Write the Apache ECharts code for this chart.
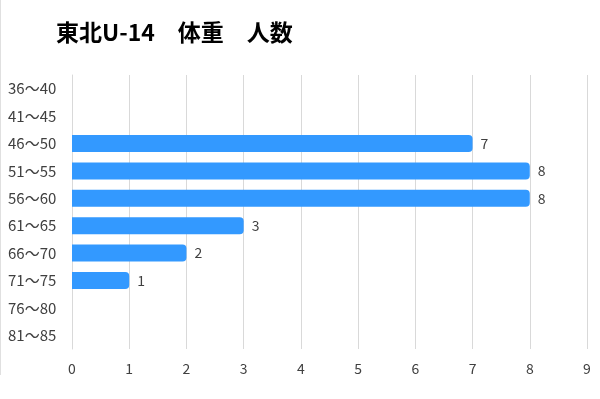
<!DOCTYPE html>
<html><head><meta charset="utf-8">
<script src="https://cdn.jsdelivr.net/npm/echarts@6/dist/echarts.min.js"></script>
<style>html,body{margin:0;padding:0;background:#fff}#c{width:600px;height:399px}</style>
</head><body><div id="c"></div>
<script>
const title = '東北U-14　体重　人数';
const categories = ['36～40','41～45','46～50','51～55','56～60','61～65','66～70','71～75','76～80','81～85'];
const values = [null, null, 7, 8, 8, 3, 2, 1, null, null];
const xTicks = [0,1,2,3,4,5,6,7,8,9];

const chart = echarts.init(document.getElementById('c'));
const font = '"Noto Sans CJK JP", "Noto Sans", sans-serif';
chart.setOption({
  animation: false,
  title: {
    text: title, left: 51, top: 16,
    textStyle: {fontFamily: font, fontSize: 23, fontWeight: 'bold', color: '#000'}
  },
  grid: {left: 72, right: 13, top: 75, bottom: 50, containLabel: false},
  xAxis: {
    type: 'value', min: xTicks[0], max: xTicks[xTicks.length-1], interval: 1,
    axisLine: {show: false}, axisTick: {show: false},
    splitLine: {lineStyle: {color: '#d9d9d9', width: 1}},
    axisLabel: {fontFamily: font, fontSize: 14, color: '#404040', margin: 13}
  },
  yAxis: {
    type: 'category', data: categories, inverse: true,
    axisLine: {show: true, lineStyle: {color: '#d9d9d9'}}, axisTick: {show: false},
    axisLabel: {fontFamily: font, fontSize: 15, color: '#404040', align: 'left', margin: 64}
  },
  series: [{
    type: 'bar', data: values, barCategoryGap: '38%',
    itemStyle: {color: '#3399ff', borderRadius: [0, 4, 4, 0]},
    label: {show: true, position: 'right', distance: 8, fontFamily: font, fontSize: 14, color: '#404040'}
  }],
  graphic: [{type: 'line', shape: {x1: 0.5, y1: 0, x2: 0.5, y2: 375}, style: {stroke: '#e0e0e0', lineWidth: 1}}]
});
</script></body></html>
